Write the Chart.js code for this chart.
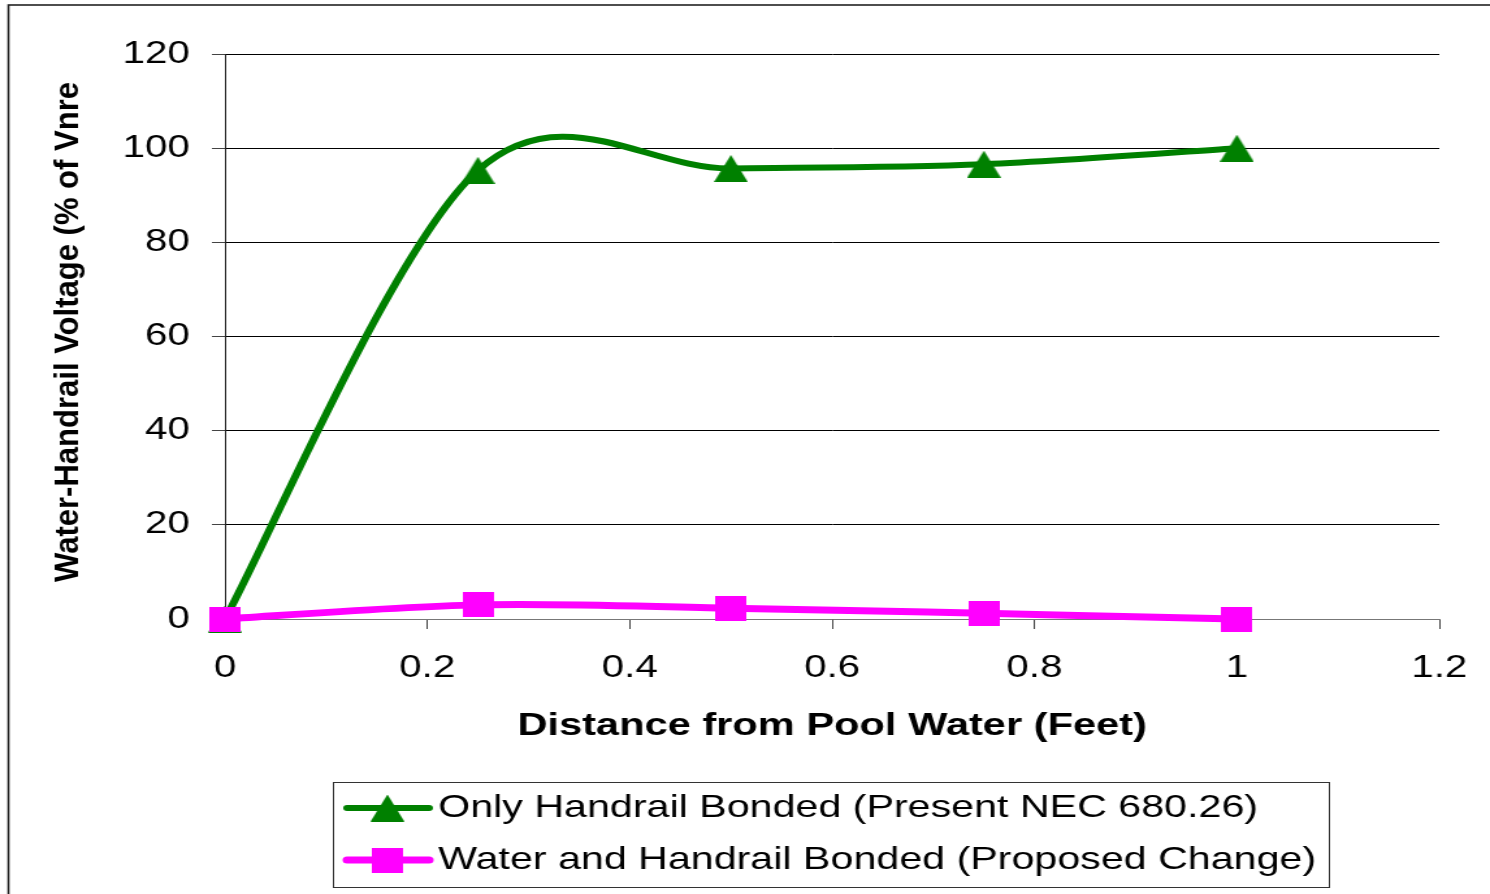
<!DOCTYPE html>
<html>
<head>
<meta charset="utf-8">
<script src="https://cdn.jsdelivr.net/npm/chart.js@4.4.1/dist/chart.umd.min.js"></script>
<style>
  html, body { margin: 0; padding: 0; background: #fff; overflow: hidden; }
  #chart { display: block; }
</style>
</head>
<body>
<!-- drawing surface is laid out narrower and widened by CSS, giving the wide lettering of the original plot -->
<canvas id="chart" width="1146" height="894" style="width:1490px;height:894px"></canvas>
<script>
// ---- data ----
const distances = [0, 0.25, 0.5, 0.75, 1];
const handrailOnly = [0, 95.3, 95.7, 96.6, 100];
const waterAndHandrail = [0, 3, 2.3, 1.2, 0];
const seriesNames = [
  'Only Handrail Bonded (Present NEC 680.26)',
  'Water and Handrail Bonded (Proposed Change)'
];
const xTitle = 'Distance from Pool Water (Feet)';
const yTitle = 'Water-Handrail Voltage (% of Vnref)';
const yTitleVisible = 'Water-Handrail Voltage (% of Vnre';

const FONT = '"Liberation Sans", Arial, Helvetica, sans-serif';
const GREEN = '#008000';
const MAGENTA = '#FF00FF';

// ---- marker glyphs ----
function triangleMarker(color) {
  const c = document.createElement('canvas');
  c.width = 26; c.height = 27;
  const g = c.getContext('2d');
  g.fillStyle = color;
  g.beginPath();
  g.moveTo(13, 0); g.lineTo(26, 27); g.lineTo(0, 27);
  g.closePath(); g.fill();
  return c;
}
function squareMarker(color) {
  const c = document.createElement('canvas');
  c.width = 24; c.height = 25;
  const g = c.getContext('2d');
  g.fillStyle = color;
  g.fillRect(0, 0, 24, 25);
  return c;
}
const triMark = triangleMarker(GREEN);
const sqMark = squareMarker(MAGENTA);

function toPoints(xs, ys) { return xs.map((x, i) => ({ x, y: ys[i] })); }

// ---- spreadsheet-style smoothing: uniform Catmull-Rom handles (1/6 of neighbour span) ----
const smoothLinePlugin = {
  id: 'smoothLine',
  beforeDatasetDraw(chart, args) {
    const meta = args.meta;
    const pts = meta.data;
    const f = 1 / 6;
    for (let i = 0; i < pts.length; i++) {
      const p = pts[i];
      const prev = pts[i - 1] || p;
      const next = pts[i + 1] || p;
      const dx = next.x - prev.x;
      const dy = next.y - prev.y;
      p.cp1x = p.x - f * dx; p.cp1y = p.y - f * dy;
      p.cp2x = p.x + f * dx; p.cp2y = p.y + f * dy;
    }
    meta.dataset._pointsUpdated = true;
  }
};

// ---- page frame ----
const framePlugin = {
  id: 'frame',
  beforeDraw(chart) {
    const ctx = chart.ctx;
    ctx.save();
    ctx.fillStyle = '#fff';
    ctx.fillRect(0, 0, chart.width, chart.height);
    ctx.strokeStyle = '#222';
    ctx.lineWidth = 1.6;
    ctx.strokeRect(6.5, 5, chart.width + 20, chart.height + 20);
    ctx.restore();
  }
};

// ---- rotated value-axis title, squeezed and cut at its top ----
const yTitlePlugin = {
  id: 'yTitle',
  afterDraw(chart) {
    const ctx = chart.ctx;
    ctx.save();
    ctx.font = 'bold 26px ' + FONT;
    const w = ctx.measureText(yTitleVisible).width;
    const len = 500;
    ctx.translate(52.5, 582);
    ctx.rotate(-Math.PI / 2);
    ctx.beginPath();
    ctx.rect(0, -30, len, 60);
    ctx.clip();
    ctx.scale(len / w, 1);
    ctx.fillStyle = '#000';
    ctx.textAlign = 'left';
    ctx.textBaseline = 'middle';
    ctx.fillText(yTitle, 0, 0);
    ctx.restore();
  }
};

// ---- boxed legend below the plot ----
const legendBoxPlugin = {
  id: 'legendBox',
  afterDraw(chart) {
    const ctx = chart.ctx;
    const box = { left: 256, top: 782, right: 1022, bottom: 887 };
    ctx.save();
    ctx.strokeStyle = '#333';
    ctx.lineWidth = 1;
    ctx.strokeRect(box.left + 0.5, box.top + 0.5, box.right - box.left, box.bottom - box.top);
    const rows = [808, 860];
    chart.data.datasets.forEach((ds, i) => {
      const y = rows[i];
      ctx.strokeStyle = ds.borderColor;
      ctx.lineWidth = ds.borderWidth;
      ctx.lineCap = 'round';
      ctx.beginPath();
      ctx.moveTo(267, y);
      ctx.lineTo(330, y);
      ctx.stroke();
      const m = ds.pointStyle;
      ctx.drawImage(m, 298 - m.width / 2, y - m.height / 2);
      ctx.fillStyle = '#000';
      ctx.font = '31.7px ' + FONT;
      ctx.textAlign = 'left';
      ctx.textBaseline = 'middle';
      ctx.fillText(ds.label, 337, y);
    });
    ctx.restore();
  }
};

Chart.defaults.font.family = FONT;
Chart.defaults.color = '#000';

new Chart(document.getElementById('chart'), {
  type: 'line',
  data: {
    datasets: [
      {
        label: seriesNames[0],
        data: toPoints(distances, handrailOnly),
        borderColor: GREEN,
        backgroundColor: GREEN,
        borderWidth: 6,
        tension: 0.5,
        pointStyle: triMark,
        pointRadius: 13,
        clip: false,
        order: 2
      },
      {
        label: seriesNames[1],
        data: toPoints(distances, waterAndHandrail),
        borderColor: MAGENTA,
        backgroundColor: MAGENTA,
        borderWidth: 7,
        tension: 0.5,
        pointStyle: sqMark,
        pointRadius: 13,
        clip: false,
        order: 1
      }
    ]
  },
  options: {
    responsive: false,
    devicePixelRatio: 1,
    animation: false,
    events: [],
    layout: { padding: { top: 54, right: 39, bottom: 115, left: 0 } },
    plugins: {
      legend: { display: false },
      tooltip: { enabled: false },
      title: { display: false }
    },
    scales: {
      x: {
        type: 'linear',
        min: 0,
        max: 1.2,
        ticks: {
          stepSize: 0.2,
          padding: 21,
          font: { size: 31 },
          maxRotation: 0,
          callback: (v) => String(parseFloat(v.toFixed(2)))
        },
        grid: { drawOnChartArea: false, drawTicks: true, tickLength: 10, color: '#444' },
        border: { display: true, color: '#777', width: 1 },
        title: {
          display: true,
          text: xTitle,
          font: { size: 32, weight: 'bold' },
          padding: { top: 0, bottom: 34 }
        },
        afterFit(scale) {
          scale.height = 160;
          scale.paddingLeft = 0;
          scale.paddingRight = 0;
        }
      },
      y: {
        type: 'linear',
        min: 0,
        max: 120,
        ticks: { stepSize: 20, padding: 17, font: { size: 31 } },
        grid: { color: '#000', lineWidth: 1, drawTicks: true, tickLength: 10, tickColor: '#444' },
        border: { display: true, color: '#222', width: 1 },
        afterFit(scale) { scale.width = 173; }
      }
    }
  },
  plugins: [framePlugin, smoothLinePlugin, yTitlePlugin, legendBoxPlugin]
});
</script>
</body>
</html>
